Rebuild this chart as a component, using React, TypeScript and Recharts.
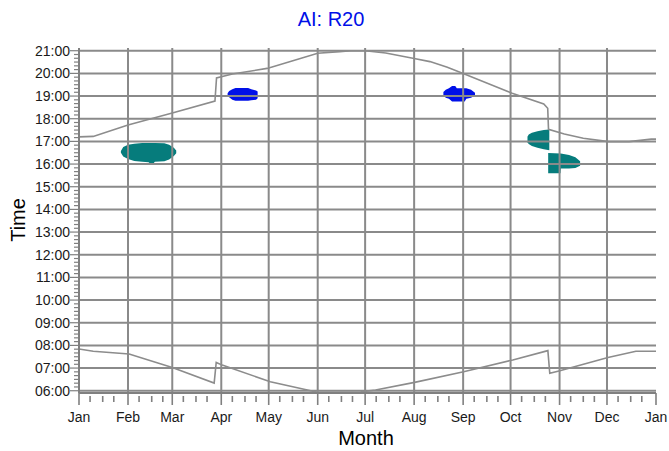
import React from 'react';
import { ComposedChart, Area, Line, XAxis, YAxis, ReferenceLine } from 'recharts';

// month starts as day-of-year, last one closes the year
const MONTH_LABELS = ['Jan', 'Feb', 'Mar', 'Apr', 'May', 'Jun', 'Jul', 'Aug', 'Sep', 'Oct', 'Nov', 'Dec', 'Jan'];
const MONTH_DAYS = [0, 31, 59, 90, 120, 151, 181, 212, 243, 273, 304, 334, 365];
const HOURS = [6, 7, 8, 9, 10, 11, 12, 13, 14, 15, 16, 17, 18, 19, 20, 21];

// [day, hour]
const SUNSET: [number, number][] = [
  [0, 17.2], [9, 17.22], [31, 17.72], [59, 18.25], [86, 18.78], [87, 19.8],
  [97, 19.97], [119, 20.22], [151, 20.89], [165, 20.96], [172, 21.0], [181, 21.0],
  [194, 20.9], [212, 20.66], [222, 20.52], [233, 20.27], [243, 20.0], [274, 19.12],
  [294, 18.65], [296.5, 18.46], [297, 17.53], [307, 17.33], [319, 17.14],
  [335, 16.99], [348, 16.99], [362, 17.1], [365, 17.1],
];

const SUNRISE: [number, number][] = [
  [0, 7.84], [9, 7.74], [31.7, 7.62], [59, 7.03], [85.5, 6.34], [86.8, 7.25],
  [90.6, 7.13], [121, 6.4], [144.5, 6.03], [150.8, 5.93], [178, 5.93], [179.3, 5.96],
  [187.6, 6.03], [212.3, 6.37], [243.3, 6.84], [274.4, 7.36], [296.6, 7.77],
  [297.8, 6.77], [304.2, 6.88], [334.6, 7.47], [352.3, 7.74], [365, 7.74],
];

// glare periods: [day, from hour, to hour]
const BLOB_FEB: [number, number, number][] = [
  [26.5, 16.5, 16.58], [28, 16.33, 16.75], [31, 16.22, 16.85], [35, 16.14, 16.9],
  [40, 16.1, 16.93], [44, 16.08, 16.93], [45, 16.02, 16.93], [47, 16.02, 16.93],
  [48, 16.1, 16.93], [54, 16.12, 16.92], [57, 16.2, 16.85], [60, 16.35, 16.72],
  [61.5, 16.48, 16.6],
];
const BLOB_APR: [number, number, number][] = [
  [94, 19.05, 19.12], [95, 18.95, 19.22], [97, 18.84, 19.3], [99, 18.79, 19.35],
  [107, 18.79, 19.35], [109, 18.82, 19.3], [112, 18.84, 19.24], [113, 18.9, 19.2],
];
const BLOB_SEP: [number, number, number][] = [
  [230.5, 19.05, 19.18], [232, 18.93, 19.28], [234, 18.88, 19.34], [236, 18.76, 19.44],
  [238, 18.76, 19.44], [239, 18.76, 19.34], [244, 18.76, 19.34], [245, 18.88, 19.34],
  [248, 18.93, 19.28], [250.5, 19.02, 19.15],
];
const BLOB_OCT: [number, number, number][] = [
  [283.7, 16.95, 17.2], [284.5, 16.88, 17.3], [286.5, 16.8, 17.38], [290, 16.72, 17.45],
  [294, 16.65, 17.5], [297.5, 16.61, 17.52],
];
const BLOB_NOV: [number, number, number][] = [
  [296.8, 15.6, 16.49], [304.6, 15.6, 16.47], [304.8, 15.8, 16.47], [310, 15.8, 16.4],
  [314, 15.83, 16.3], [317, 15.93, 16.12],
];

const TEAL = '#067c7c';
const BLUE = '#0010e8';
const GRID = '#8a8a8a';
const FONT = '"Liberation Sans", Arial, sans-serif';

const toLine = (pts: [number, number][]) => pts.map(([day, hour]) => ({ day, hour }));
const toRange = (pts: [number, number, number][]) => pts.map(([day, lo, hi]) => ({ day, range: [lo, hi] }));

const X_TICKS = MONTH_DAYS.concat(MONTH_DAYS.slice(0, -1).flatMap((d) => [d + 7, d + 15, d + 22])).sort((a, b) => a - b);
const Y_TICKS = HOURS.flatMap((h) => [0, 1, 2, 3, 4, 5].map((k) => h + k / 6)).filter((v) => v <= 21.001);

const fmtHour = (v: number) => `${String(Math.round(v)).padStart(2, '0')}:00`;

function YTick(props: any) {
  const { x, y, payload } = props;
  const v = payload.value as number;
  const major = Math.abs(v - Math.round(v)) < 1e-6;
  return (
    <g>
      <line x1={x - (major ? 9 : 5)} x2={x} y1={y} y2={y} stroke="#808080" strokeWidth={1.2} />
      {major && (
        <text x={x - 9} y={y} textAnchor="end" dominantBaseline="central" fontSize={14} fontFamily={FONT} fill="#1a1a1a">
          {fmtHour(v)}
        </text>
      )}
    </g>
  );
}

function XTick(props: any) {
  const { x, y, payload } = props;
  const idx = MONTH_DAYS.indexOf(payload.value);
  const major = idx >= 0;
  return (
    <g>
      <line x1={x} x2={x} y1={y + (major ? 0 : 3)} y2={y + (major ? 12 : 9)} stroke="#808080" strokeWidth={1.6} />
      {major && (
        <text x={x} y={y + 24} textAnchor="middle" dominantBaseline="central" fontSize={14} fontFamily={FONT} fill="#1a1a1a">
          {MONTH_LABELS[idx]}
        </text>
      )}
    </g>
  );
}

const blobs = [
  { key: 'feb', pts: BLOB_FEB, color: TEAL },
  { key: 'apr', pts: BLOB_APR, color: BLUE },
  { key: 'sep', pts: BLOB_SEP, color: BLUE },
  { key: 'oct', pts: BLOB_OCT, color: TEAL },
  { key: 'nov', pts: BLOB_NOV, color: TEAL },
];

export default function App() {
  return (
    <div style={{ position: 'absolute', left: 0, top: 0, width: 669, height: 451, background: '#fff' }}>
      <ComposedChart width={669} height={451} margin={{ top: 48, right: 13, bottom: 0, left: 0 }}>
        <XAxis
          type="number"
          dataKey="day"
          domain={[0, 365]}
          ticks={X_TICKS}
          interval={0}
          tickSize={0}
          tickMargin={0}
          tick={<XTick />}
          axisLine={{ stroke: '#808080', strokeWidth: 2 }}
          height={58}
          allowDataOverflow
        />
        <YAxis
          type="number"
          domain={[5.9, 21.12]}
          ticks={Y_TICKS}
          interval={0}
          tickSize={0}
          tickMargin={0}
          tick={<YTick />}
          axisLine={{ stroke: '#808080', strokeWidth: 2 }}
          width={79}
          allowDataOverflow
        />
        {blobs.map((b) => (
          <Area
            key={b.key}
            data={toRange(b.pts)}
            dataKey="range"
            type="linear"
            stroke="none"
            fill={b.color}
            fillOpacity={1}
            dot={false}
            activeDot={false}
            isAnimationActive={false}
          />
        ))}
        {HOURS.map((h) => (
          <ReferenceLine key={`h${h}`} y={h} stroke={GRID} strokeWidth={2} />
        ))}
        {MONTH_DAYS.slice(1, -1).map((d) => (
          <ReferenceLine key={`v${d}`} x={d} stroke={GRID} strokeWidth={2} />
        ))}
        <Line data={toLine(SUNSET)} dataKey="hour" type="linear" stroke="#8c8c8c" strokeWidth={1.6} dot={false} activeDot={false} isAnimationActive={false} />
        <Line data={toLine(SUNRISE)} dataKey="hour" type="linear" stroke="#8c8c8c" strokeWidth={1.6} dot={false} activeDot={false} isAnimationActive={false} />
      </ComposedChart>
      <svg width={669} height={451} style={{ position: 'absolute', left: 0, top: 0, pointerEvents: 'none' }}>
        <text x={331} y={19} textAnchor="middle" dominantBaseline="central" fontSize={20} fontFamily={FONT} fill={BLUE}>
          AI: R20
        </text>
        <text x={366} y={438} textAnchor="middle" dominantBaseline="central" fontSize={20} fontFamily={FONT} fill="#000">
          Month
        </text>
        <text
          x={18}
          y={220}
          textAnchor="middle"
          dominantBaseline="central"
          fontSize={20}
          fontFamily={FONT}
          fill="#000"
          transform="rotate(-90 18 220)"
        >
          Time
        </text>
      </svg>
    </div>
  );
}
